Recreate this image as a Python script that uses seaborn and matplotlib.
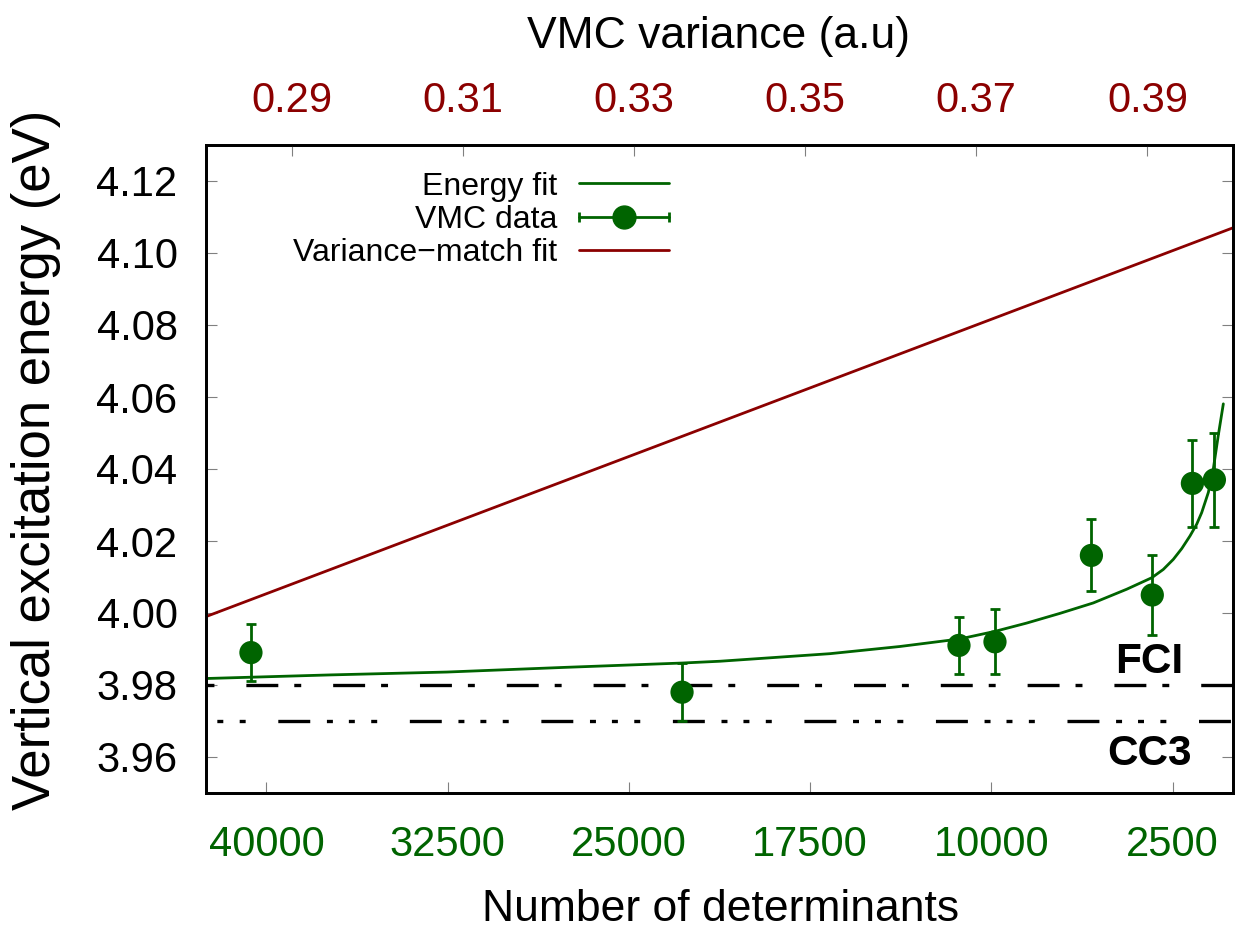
import matplotlib
matplotlib.use("Agg")
import matplotlib.pyplot as plt
import seaborn as sns
from matplotlib.lines import Line2D
from matplotlib.legend_handler import HandlerLine2D
from matplotlib.ticker import FormatStrFormatter

# VMC excitation energies vs number of determinants (bottom axis)
vmc_ndet = [40640, 22800, 11340, 9850, 5860, 3340, 1680, 770]
vmc_energy = [3.989, 3.978, 3.991, 3.992, 4.016, 4.005, 4.036, 4.037]
vmc_err = [0.008, 0.008, 0.008, 0.009, 0.010, 0.011, 0.012, 0.013]

# energy fit curve
fit_ndet = [42500, 37370, 32530, 27640, 22800, 21230, 16680, 13780, 11300, 9850, 8540,
            7160, 5780, 4400, 3360, 2885, 2470, 2120, 1780, 1500, 1295, 1020, 815, 610, 400]
fit_energy = [3.9818, 3.9828, 3.9836, 3.9849, 3.9861, 3.9866, 3.9887, 3.9907, 3.9928, 3.9949, 3.9972,
              3.9999, 4.0028, 4.0066, 4.0098, 4.0121, 4.0149, 4.0179, 4.0214, 4.0247, 4.0279,
              4.0335, 4.0400, 4.0493, 4.0581]

# variance-match fit (top axis, VMC variance)
var_fit_var = [0.28, 0.40]
var_fit_energy = [3.999, 4.107]

fci_energy = 3.98
cc3_energy = 3.97

ndet_ticks = [40000, 32500, 25000, 17500, 10000, 2500]
var_ticks = [0.29, 0.31, 0.33, 0.35, 0.37, 0.39]
energy_ticks = [3.96, 3.98, 4.00, 4.02, 4.04, 4.06, 4.08, 4.10, 4.12]

GREEN = '#006400'
RED = '#8b0000'

sns.set_theme(style='ticks')
plt.rcParams['font.family'] = ['Liberation Sans', 'DejaVu Sans']
plt.rcParams['text.color'] = 'black'
plt.rcParams['axes.labelcolor'] = 'black'
plt.rcParams['lines.scale_dashes'] = False

fig = plt.figure(figsize=(12.44, 9.34), dpi=100)
ax = fig.add_axes([206 / 1244, 1 - 793 / 934, 1027 / 1244, 648 / 934])
ax2 = ax.twiny()

# reference lines
ax.axhline(fci_energy, color='black', lw=2.4, linestyle=(33.8, (23, 11.5, 5, 23)))
ax.axhline(cc3_energy, color='black', lw=2.4,
           linestyle=(43, (23, 12, 4.3, 11.5, 4.3, 11.8, 4.3, 23.5)))

sns.lineplot(x=fit_ndet, y=fit_energy, ax=ax, color=GREEN, lw=2, sort=False, estimator=None)
ax.errorbar(vmc_ndet, vmc_energy, yerr=vmc_err, fmt='none', ecolor=GREEN,
            elinewidth=2, capsize=3.6, capthick=2)
sns.scatterplot(x=vmc_ndet, y=vmc_energy, ax=ax, color=GREEN, s=280, edgecolor='none', zorder=3)

sns.lineplot(x=var_fit_var, y=var_fit_energy, ax=ax2, color=RED, lw=2)

ax.text(3470, 3.9833, 'FCI', fontsize=30.5, fontweight='bold', ha='center', va='baseline')
ax.text(3470, 3.9578, 'CC3', fontsize=30.5, fontweight='bold', ha='center', va='baseline')

ax.set_xlim(42500, 0)
ax.set_ylim(3.95, 4.13)
ax2.set_xlim(0.28, 0.40)
ax.set_xticks(ndet_ticks)
ax.set_yticks(energy_ticks)
ax2.set_xticks(var_ticks)
ax.yaxis.set_major_formatter(FormatStrFormatter('%.2f'))
ax.xaxis.set_major_formatter(FormatStrFormatter('%d'))
ax2.xaxis.set_major_formatter(FormatStrFormatter('%.2f'))

tick_kw = dict(direction='in', length=8, width=0.8, color='#808080', labelsize=30)
ax.tick_params(axis='x', labelcolor=GREEN, pad=22.8, top=False, bottom=True, **tick_kw)
ax.tick_params(axis='y', labelcolor='black', pad=20.5, left=True, right=True, **tick_kw)
ax2.tick_params(axis='x', labelcolor=RED, pad=17, top=True, bottom=False, **tick_kw)

for a in (ax, ax2):
    for s in a.spines.values():
        s.set_linewidth(2)
        s.set_color('black')

ax.set_xlabel('Number of determinants', fontsize=32)
ax.xaxis.set_label_coords(0.501, -0.1975)
ax.xaxis.label.set_va('baseline')
ax.set_ylabel('Vertical excitation energy (eV)', fontsize=38)
ax.yaxis.set_label_coords(-0.1655, 0.514)
ax.yaxis.label.set_va('center')
ax2.set_xlabel('VMC variance (a.u)', fontsize=32)
ax2.xaxis.set_label_coords(0.4995, 1.1497)
ax2.xaxis.label.set_va('baseline')

# legend, gnuplot style: text on the left, sample on the right
fit_handle = Line2D([], [], color=GREEN, lw=2)
cap_line = Line2D([], [], color=GREEN, lw=2, marker='|', ms=7, mew=2)
dot = Line2D([], [], ls='none', marker='o', ms=16.5, color=GREEN)
var_handle = Line2D([], [], color=RED, lw=2)
ax2.legend([fit_handle, (cap_line, dot), var_handle],
           ['Energy fit', 'VMC data', 'Variance\u2212match fit'],
           loc='upper right', bbox_to_anchor=(0.538, 0.8162), bbox_transform=fig.transFigure,
           frameon=False, fontsize=23, handlelength=2.82, handletextpad=0.68,
           labelspacing=0.1, borderpad=0, borderaxespad=0, markerfirst=False,
           handler_map={cap_line: HandlerLine2D(numpoints=2, marker_pad=0)})

fig.savefig('out.png', dpi=100)
